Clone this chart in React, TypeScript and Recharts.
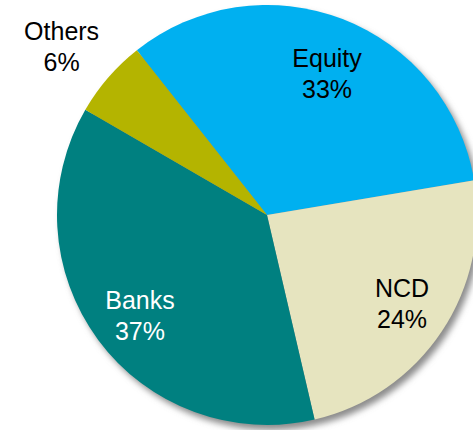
import React from 'react';
import { PieChart, Pie, Cell } from 'recharts';

const categories = ['Equity', 'NCD', 'Banks', 'Others'];
const shares = [33, 24, 37, 6];
const colors = ['#00B0F0', '#E6E4BF', '#008080', '#B4B400'];
const labelColors = ['#000000', '#000000', '#FFFFFF', '#000000'];
const labelRadius = [0.729, 0.771, 0.774, 1.262];
const labelAngleShift = [-2, 0.2, 2.1, 1.7];

const data = categories.map((name, i) => ({ name, value: shares[i] }));
const shadowData = [{ name: 'shadow', value: 1 }];

const RAD = Math.PI / 180;

const renderLabel = (props: any) => {
  const { cx, cy, midAngle, outerRadius, index, name, value } = props;
  const r = outerRadius * labelRadius[index];
  const a = midAngle + labelAngleShift[index];
  const x = cx + r * Math.cos(-a * RAD);
  const y = cy + r * Math.sin(-a * RAD);
  return (
    <text
      x={x}
      y={y}
      textAnchor="middle"
      fill={labelColors[index]}
      fontFamily="'Liberation Sans', Arial, sans-serif"
      fontSize={25}
    >
      <tspan x={x} y={y - 7}>{name}</tspan>
      <tspan x={x} y={y + 24}>{`${value}%`}</tspan>
    </text>
  );
};

export default function App() {
  return (
    <div style={{ position: 'absolute', left: 0, top: 0, width: 473, height: 430, background: '#fff' }}>
      <PieChart width={473} height={430} margin={{ top: 0, right: 0, bottom: 0, left: 0 }}>
        <defs>
          <filter id="pieShadow" x="-20%" y="-20%" width="140%" height="140%">
            <feGaussianBlur stdDeviation="3" />
          </filter>
        </defs>
        <Pie
          data={shadowData}
          dataKey="value"
          cx={271}
          cy={220}
          outerRadius={210}
          startAngle={90}
          endAngle={-270}
          stroke="none"
          isAnimationActive={false}
          label={false}
          labelLine={false}
        >
          <Cell fill="#8c8c8c" filter="url(#pieShadow)" />
        </Pie>
        <Pie
          data={data}
          dataKey="value"
          nameKey="name"
          cx={267}
          cy={215}
          outerRadius={210}
          startAngle={128.3}
          endAngle={-231.7}
          stroke="none"
          isAnimationActive={false}
          label={renderLabel}
          labelLine={false}
        >
          {data.map((d, i) => (
            <Cell key={d.name} fill={colors[i]} />
          ))}
        </Pie>
      </PieChart>
    </div>
  );
}
